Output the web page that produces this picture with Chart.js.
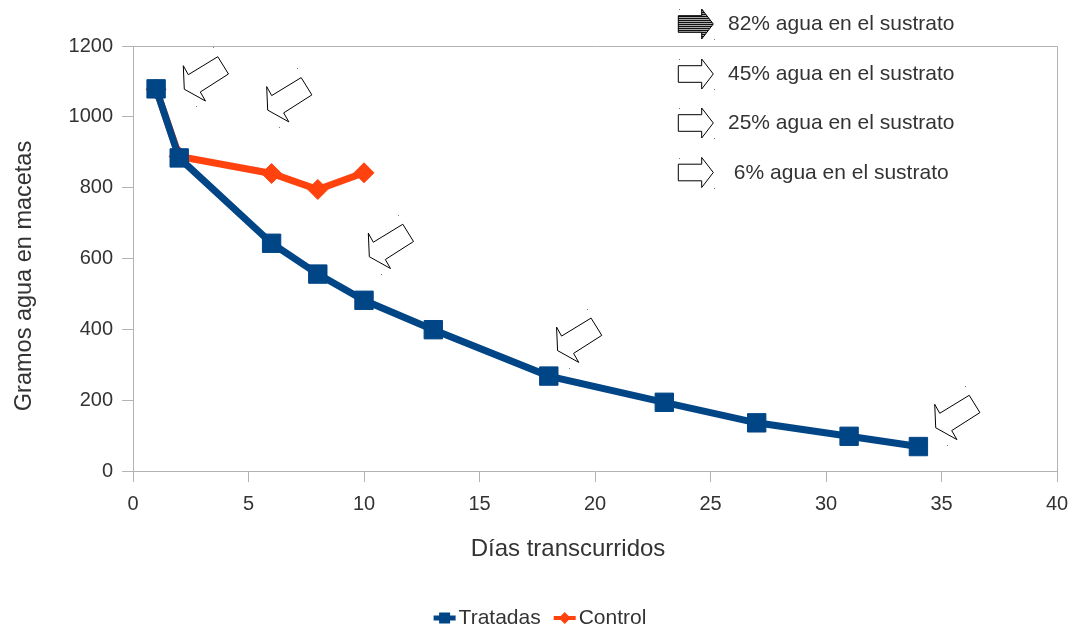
<!DOCTYPE html>
<html><head><meta charset="utf-8">
<script src="https://cdn.jsdelivr.net/npm/chart.js@4"></script>
<style>html,body{margin:0;padding:0;background:#fff;overflow:hidden}</style>
</head><body>
<div style="width:1081px;height:631px;position:relative"><canvas id="c" width="1081" height="631"></canvas></div>
<script>
// ---- data ----
const seriesNames = ['Tratadas', 'Control'];
const tratadasDias = [1, 2, 6, 8, 10, 13, 18, 23, 27, 31, 34];
const tratadasGramos = [1079, 884, 643, 556, 482, 399, 268, 194, 136, 98, 69];
const controlDias = [1, 2, 6, 8, 10];
const controlGramos = [1078, 888, 840, 795, 842];
const xTickStep = 5, xMin = 0, xMax = 40;
const yTickStep = 200, yMin = 0, yMax = 1200;
const xTitle = 'Días transcurridos';
const yTitle = 'Gramos agua en macetas';
// arrow call-outs (tip position in data units)
const arrowDias = [2.22, 5.83, 10.23, 18.38, 34.75];
const arrowGramos = [1078, 1019, 605, 340, 122];
const notaTextos = ['82% agua en el sustrato', '45% agua en el sustrato', '25% agua en el sustrato', ' 6% agua en el sustrato'];

// ---- styles ----
const FONT = '"Liberation Sans", Arial, sans-serif';
const TXT = '#333333';
const AX = '#b3b3b3';
const BLUE = '#004586';
const ORANGE = '#ff420e';

const toXY = (xs, ys) => xs.map((x, i) => ({x: x, y: ys[i]}));

function stripePattern(ctx) {
  const c = document.createElement('canvas');
  c.width = 4; c.height = 2;
  const g = c.getContext('2d');
  g.fillStyle = '#aaaaaa'; g.fillRect(0, 0, 4, 2);
  g.fillStyle = '#111111'; g.fillRect(0, 0, 4, 1);
  return ctx.createPattern(c, 'repeat');
}

const calloutShape = [[0,0],[-1,-23.5],[4,-14.5],[33.5,-32.5],[44.2,-15.2],[16,2.8],[21.2,11.8]];
const keyShape = [[0,0],[-11.6,-15],[-11.6,-8.3],[-35,-8.3],[-35,8.3],[-11.6,8.3],[-11.6,15]];

function poly(ctx, pts, ox, oy) {
  ctx.beginPath();
  pts.forEach((p, i) => { if (i === 0) ctx.moveTo(ox + p[0], oy + p[1]); else ctx.lineTo(ox + p[0], oy + p[1]); });
  ctx.closePath();
}
function dot(ctx, x, y) { ctx.fillStyle = '#777'; ctx.fillRect(Math.round(x), Math.round(y), 1, 1); }

const framePlugin = {
  id: 'frame',
  beforeDatasetsDraw(chart) {
    const {ctx, chartArea: a} = chart;
    ctx.save();
    ctx.strokeStyle = AX; ctx.lineWidth = 1;
    ctx.beginPath();
    const t = Math.round(a.top) + 0.5, r = Math.round(a.right) + 0.5;
    ctx.moveTo(a.left, t); ctx.lineTo(r, t); ctx.lineTo(r, a.bottom);
    ctx.stroke();
    // axis titles
    ctx.fillStyle = TXT; ctx.textAlign = 'center'; ctx.textBaseline = 'middle';
    ctx.font = '24px ' + FONT;
    ctx.fillText(xTitle, 568, 549);
    ctx.font = '23.5px ' + FONT;
    ctx.translate(25, 276); ctx.rotate(-Math.PI / 2);
    ctx.fillText(yTitle, 0, 0);
    ctx.restore();
  },
  afterDatasetsDraw(chart) {
    const {ctx, scales: {x, y}} = chart;
    ctx.save();
    arrowDias.forEach((d, i) => {
      const px = x.getPixelForValue(d), py = y.getPixelForValue(arrowGramos[i]);
      poly(ctx, calloutShape, px, py);
      ctx.fillStyle = '#fff'; ctx.fill();
      ctx.strokeStyle = '#000'; ctx.lineWidth = 1; ctx.stroke();
      dot(ctx, px + 29, py - 42); dot(ctx, px + 11.5, py + 17);
    });
    ctx.restore();
  },
  afterDraw(chart) {
    const {ctx} = chart;
    ctx.save();
    // key box over top border
    ctx.fillStyle = '#fff';
    ctx.fillRect(722, 0, 243, 44);
    const rowY = [24, 74, 123, 172.5];
    const tipX = 713.3;
    rowY.forEach((ry, i) => {
      poly(ctx, keyShape, tipX, ry);
      ctx.fillStyle = i === 0 ? stripePattern(ctx) : '#fff';
      ctx.fill();
      ctx.strokeStyle = '#000'; ctx.lineWidth = 1; ctx.stroke();
      dot(ctx, tipX - 34, ry - 15); dot(ctx, tipX + 1, ry + 15);
      ctx.fillStyle = TXT;
      ctx.font = '21px ' + FONT;
      ctx.textBaseline = 'middle'; ctx.textAlign = 'left';
      ctx.fillText(notaTextos[i], 728, ry + 0.5);
    });
    // series legend
    ctx.font = '21px ' + FONT;
    const cy = 618;
    const symW = 22, gap1 = 3, gap2 = 13;
    const widths = seriesNames.map(n => ctx.measureText(n).width);
    const total = widths.reduce((s, w) => s + symW + gap1 + w, 0) + gap2;
    let lx = 540 - total / 2;
    seriesNames.forEach((n, i) => {
      const ds = chart.data.datasets[i];
      ctx.strokeStyle = ds.borderColor; ctx.fillStyle = ds.borderColor;
      ctx.lineWidth = i === 0 ? 5 : 4;
      ctx.beginPath(); ctx.moveTo(lx, cy); ctx.lineTo(lx + symW, cy); ctx.stroke();
      const mx = lx + symW / 2;
      if (i === 0) { ctx.fillRect(mx - 5.5, cy - 5.5, 11, 11); }
      else { ctx.beginPath(); ctx.moveTo(mx, cy - 6); ctx.lineTo(mx + 6, cy); ctx.lineTo(mx, cy + 6); ctx.lineTo(mx - 6, cy); ctx.closePath(); ctx.fill(); }
      ctx.fillStyle = TXT; ctx.textBaseline = 'middle'; ctx.textAlign = 'left';
      ctx.fillText(n, lx + symW + gap1, cy);
      lx += symW + gap1 + widths[i] + gap2;
    });
    ctx.restore();
  }
};

new Chart(document.getElementById('c'), {
  type: 'line',
  data: {
    datasets: [
      {label: seriesNames[0], data: toXY(tratadasDias, tratadasGramos), borderColor: BLUE, backgroundColor: BLUE,
       borderWidth: 7, pointStyle: 'rect', pointRadius: 13, pointBorderWidth: 1, pointBorderColor: BLUE, pointBackgroundColor: BLUE, tension: 0},
      {label: seriesNames[1], data: toXY(controlDias, controlGramos), borderColor: ORANGE, backgroundColor: ORANGE,
       borderWidth: 7, pointStyle: 'rectRot', pointRadius: 10, pointBorderWidth: 1, pointBorderColor: ORANGE, pointBackgroundColor: ORANGE, tension: 0}
    ]
  },
  options: {
    responsive: false, animation: false, devicePixelRatio: 1,
    layout: {padding: {left: 0, right: 24, top: 46, bottom: 0}},
    plugins: {legend: {display: false}, tooltip: {enabled: false}},
    scales: {
      x: {
        type: 'linear', min: xMin, max: xMax,
        ticks: {stepSize: xTickStep, color: TXT, font: {family: FONT, size: 20}, padding: 10, maxRotation: 0,
                callback: v => String(v)},
        grid: {drawOnChartArea: false, drawTicks: true, tickLength: 11, color: AX},
        border: {display: true, color: AX},
        title: {display: false},
        afterFit(s) { s.height = 160; }
      },
      y: {
        type: 'linear', min: yMin, max: yMax,
        ticks: {stepSize: yTickStep, color: TXT, font: {family: FONT, size: 20}, padding: 9,
                callback: v => String(v)},
        grid: {drawOnChartArea: false, drawTicks: true, tickLength: 11, color: AX},
        border: {display: true, color: AX},
        title: {display: false},
        afterFit(s) { s.width = 133; }
      }
    }
  },
  plugins: [framePlugin]
});
</script>
</body></html>
